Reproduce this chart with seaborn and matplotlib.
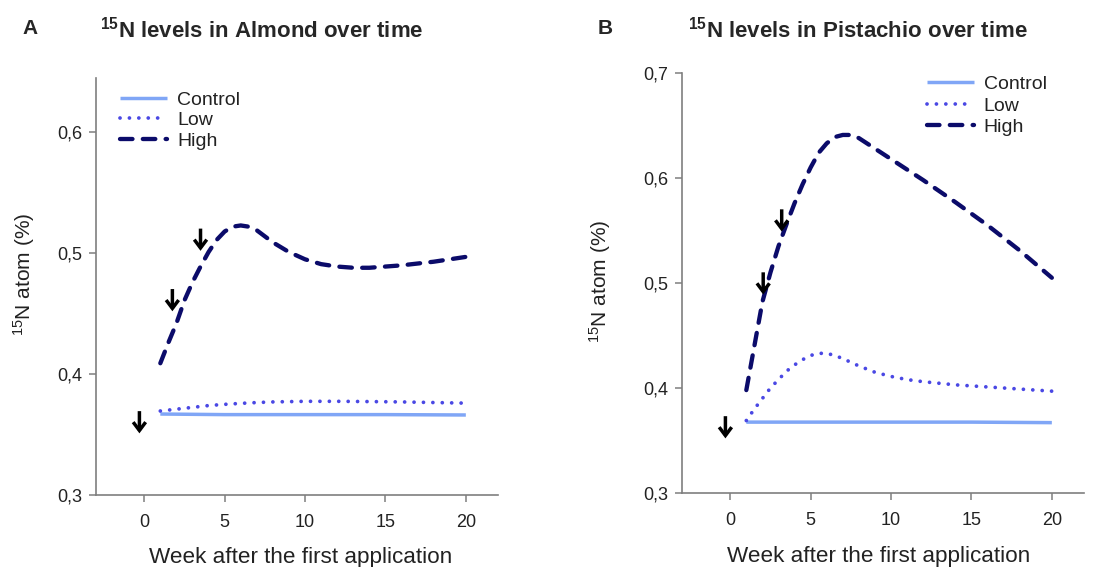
import matplotlib
matplotlib.use("Agg")
import matplotlib.pyplot as plt
import seaborn as sns
import pandas as pd

# ---------------- data ----------------
treatments = ["Control", "Low", "High"]
x_ticks = [0, 5, 10, 15, 20]

# Almond
alm_control_wk = [1, 5, 10, 15, 20]
alm_control = [0.367, 0.3665, 0.3665, 0.3665, 0.3662]
alm_low_wk = [1, 2, 3, 4, 5, 6, 7, 8, 10, 12, 14, 16, 18, 20]
alm_low = [0.3695, 0.371, 0.3725, 0.374, 0.375, 0.3758, 0.3765, 0.377, 0.3775, 0.3775,
           0.3773, 0.377, 0.3765, 0.376]
alm_high_wk = [1, 1.5, 2, 2.5, 3, 3.5, 4, 4.5, 5, 5.5, 6, 6.5, 7, 7.5, 8, 9, 10, 11, 12,
               13, 14, 16, 18, 20]
alm_high = [0.409, 0.426, 0.442, 0.461, 0.476, 0.489, 0.501, 0.511, 0.518, 0.522, 0.523,
            0.522, 0.519, 0.514, 0.509, 0.501, 0.495, 0.491, 0.489, 0.488, 0.488, 0.490,
            0.493, 0.497]

# Pistachio
pis_control_wk = [1, 5, 10, 15, 20]
pis_control = [0.3675, 0.3675, 0.3675, 0.3675, 0.367]
pis_low_wk = [1, 1.5, 2, 2.5, 3, 3.5, 4, 4.5, 5, 5.5, 6, 6.5, 7, 8, 9, 10, 11, 12, 14,
              16, 18, 20]
pis_low = [0.369, 0.380, 0.390, 0.400, 0.408, 0.416, 0.422, 0.427, 0.431, 0.433, 0.433,
           0.431, 0.428, 0.421, 0.415, 0.411, 0.408, 0.406, 0.403, 0.401, 0.399, 0.397]
pis_high_wk = [1, 1.5, 2, 2.5, 3, 3.5, 4, 4.5, 5, 5.5, 6, 6.5, 7, 7.5, 8, 9, 10, 11, 12,
               14, 16, 18, 20]
pis_high = [0.398, 0.440, 0.482, 0.510, 0.535, 0.556, 0.576, 0.594, 0.610, 0.624, 0.633,
            0.639, 0.641, 0.641, 0.638, 0.628, 0.618, 0.608, 0.598, 0.577, 0.555, 0.531,
            0.505]

# application arrows: week and level of the arrow tip
alm_arrow_wk = [-0.3, 1.75, 3.5]
alm_arrow_tip = [0.351, 0.452, 0.502]
pis_arrow_wk = [-0.3, 2.05, 3.2]
pis_arrow_tip = [0.352, 0.489, 0.549]

# ---------------- style ----------------
sns.set_style("ticks")
plt.rcParams["font.family"] = ["Liberation Sans", "DejaVu Sans"]
plt.rcParams["mathtext.fontset"] = "custom"
plt.rcParams["mathtext.rm"] = "Liberation Sans"
plt.rcParams["mathtext.bf"] = "Liberation Sans:bold"
plt.rcParams["mathtext.it"] = "Liberation Sans:italic"

colors = {"Control": "#80A6F6", "Low": "#4A48E4", "High": "#0B0B6A"}
styles = {
    "Control": dict(linestyle="-", linewidth=2.5, solid_capstyle="butt"),
    "Low": dict(linestyle=(0, (0.01, 2.5)), linewidth=2.7, dash_capstyle="round"),
    "High": dict(linestyle=(0, (2.9, 2.4)), linewidth=3.1, dash_capstyle="round"),
}

fig = plt.figure(figsize=(10.99, 5.67), dpi=100)
W, H = 1099, 567
ax1 = fig.add_axes([96 / W, 1 - 495 / H, 402 / W, 417 / H])
ax2 = fig.add_axes([682 / W, 1 - 493 / H, 402 / W, 420 / H])

grey = "#7f7f7f"
txt = "#222222"


def draw(ax, series, ylim, yticks, arrows):
    for name, wk, vals in series:
        df = pd.DataFrame({"week": wk, "level": vals})
        sns.lineplot(data=df, x="week", y="level", ax=ax, color=colors[name],
                     label=name, **styles[name])
    for w, v in zip(*arrows):
        ax.annotate("", xy=(w, v), xytext=(0, 16), textcoords="offset points",
                    arrowprops=dict(arrowstyle="->,head_length=0.6,head_width=0.45",
                                    lw=2.5, color="black", shrinkA=0, shrinkB=0,
                                    joinstyle="miter", capstyle="butt"))
    ax.set_xlim(-3, 22)
    ax.set_ylim(*ylim)
    ax.set_xticks(x_ticks)
    ax.set_yticks(yticks)
    ax.set_yticklabels([f"{t:.1f}".replace(".", ",") for t in yticks])
    for s in ["top", "right"]:
        ax.spines[s].set_visible(False)
    for s in ["left", "bottom"]:
        ax.spines[s].set_color(grey)
        ax.spines[s].set_linewidth(1.2)
    ax.tick_params(axis="both", direction="out", length=5, width=1.1, color=grey,
                   labelsize=13, labelcolor=txt)
    ax.tick_params(axis="x", pad=9)
    ax.tick_params(axis="y", pad=5)
    ax.set_xlabel("Week after the first application", fontsize=16.2, color=txt)
    ax.set_ylabel(r"$^{15}$N atom (%)", fontsize=15, color=txt)


draw(ax1,
     [("Control", alm_control_wk, alm_control), ("Low", alm_low_wk, alm_low),
      ("High", alm_high_wk, alm_high)],
     (0.3, 0.645), [0.3, 0.4, 0.5, 0.6], (alm_arrow_wk, alm_arrow_tip))
draw(ax2,
     [("Control", pis_control_wk, pis_control), ("Low", pis_low_wk, pis_low),
      ("High", pis_high_wk, pis_high)],
     (0.3, 0.7), [0.3, 0.4, 0.5, 0.6, 0.7], (pis_arrow_wk, pis_arrow_tip))

ax1.xaxis.set_label_coords(0.51, -0.125)
ax2.xaxis.set_label_coords(0.49, -0.127)
ax1.yaxis.set_label_coords(-0.147, 0.53)
ax2.yaxis.set_label_coords(-0.172, 0.505)

for ax, xa, ya, sp in [(ax1, 0.06, 0.969, 0.15), (ax2, 0.609, 0.994, 0.2)]:
    ax.legend(loc="upper left", bbox_to_anchor=(xa, ya),
              frameon=False, fontsize=14, handlelength=2.42, handletextpad=0.5,
              labelspacing=sp, borderpad=0, borderaxespad=0)
    for t in ax.get_legend().get_texts():
        t.set_color(txt)

# panel letters and titles
fig.text(22 / W, 1 - 29 / H, "A", fontsize=15, fontweight="bold", va="center", ha="left")
fig.text(598 / W, 1 - 29 / H, "B", fontsize=15, fontweight="bold", va="center", ha="left")
fig.text(100 / W, 1 - 30 / H, r"$^{\mathbf{15}}$N levels in Almond over time",
         fontsize=16, fontweight="bold", va="center", ha="left")
fig.text(688 / W, 1 - 30 / H, r"$^{\mathbf{15}}$N levels in Pistachio over time",
         fontsize=16, fontweight="bold", va="center", ha="left")

fig.savefig("out.png", dpi=100)
